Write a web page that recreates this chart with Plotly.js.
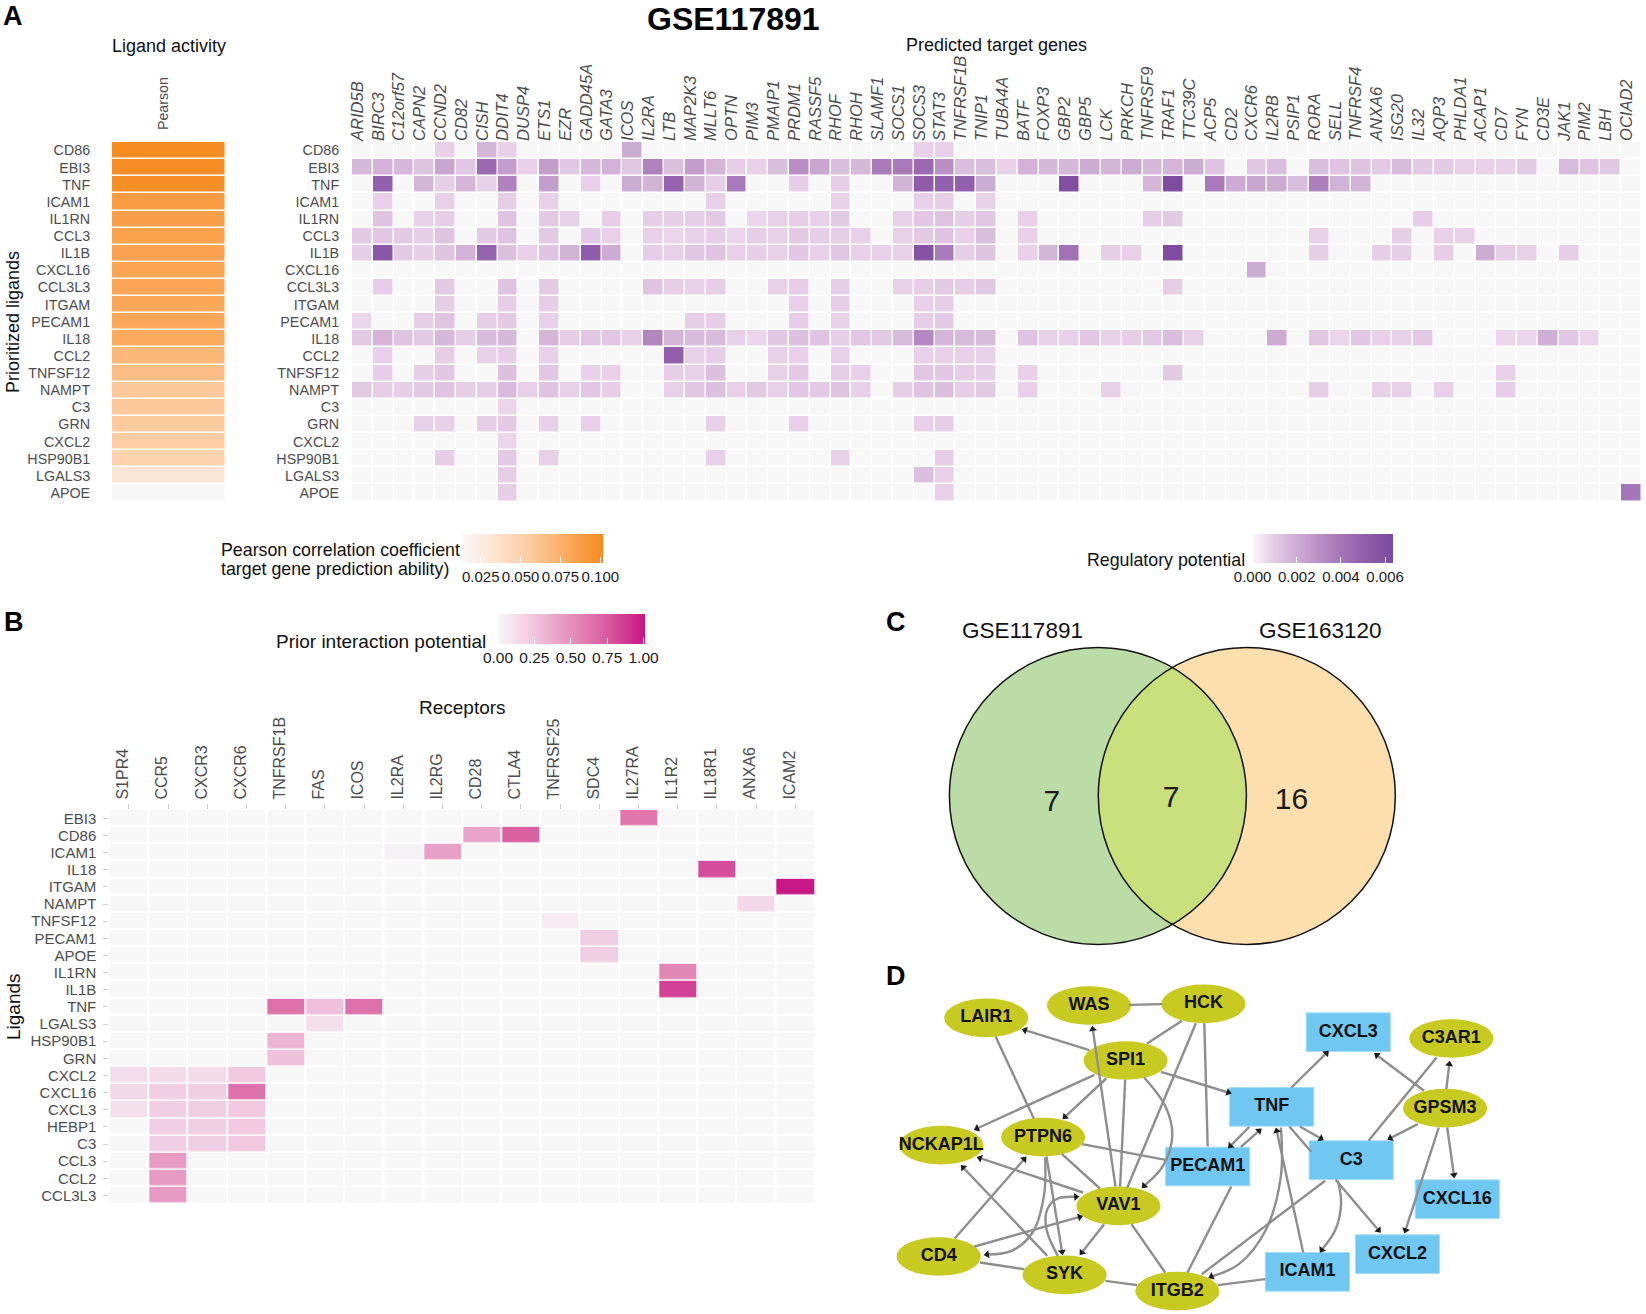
<!DOCTYPE html>
<html>
<head>
<meta charset="utf-8">
<script src="https://cdn.plot.ly/plotly-3.0.1.min.js"></script>
<style>html,body{margin:0;padding:0;background:#fff}#plot{width:1646px;height:1314px}</style>
</head>
<body>
<div id="plot"></div>
<script>
// ---------- Panel A data ----------
const ligandsA = ['CD86','EBI3','TNF','ICAM1','IL1RN','CCL3','IL1B','CXCL16','CCL3L3','ITGAM','PECAM1','IL18','CCL2','TNFSF12','NAMPT','C3','GRN','CXCL2','HSP90B1','LGALS3','APOE'];
const pearson = [0.1017,0.100,0.099,0.090,0.087,0.086,0.085,0.084,0.082,0.081,0.081,0.080,0.070,0.066,0.058,0.058,0.057,0.054,0.050,0.032,0.014];
const targetGenes = ['ARID5B','BIRC3','C12orf57','CAPN2','CCND2','CD82','CISH','DDIT4','DUSP4','ETS1','EZR','GADD45A','GATA3','ICOS','IL2RA','LTB','MAP2K3','MLLT6','OPTN','PIM3','PMAIP1','PRDM1','RASSF5','RHOF','RHOH','SLAMF1','SOCS1','SOCS3','STAT3','TNFRSF1B','TNIP1','TUBA4A','BATF','FOXP3','GBP2','GBP5','LCK','PRKCH','TNFRSF9','TRAF1','TTC39C','ACP5','CD2','CXCR6','IL2RB','PSIP1','RORA','SELL','TNFRSF4','ANXA6','ISG20','IL32','AQP3','PHLDA1','ACAP1','CD7','FYN','CD3E','JAK1','PIM2','LBH','OCIAD2'];
// regulatory potential, in units of 1e-4
const reg_CD86 = [0,0,0,0,8,0,17,8,0,0, 0,0,0,20,0,0,0,0,0,0, 0,0,0,0,0,0,0,8,8,0, 0,0,0,0,0,0,0,0,0,0, 0,0,0,0,0,0,0,0,0,0, 0,0,0,0,0,0,0,0,0,0, 0,0];
const reg_EBI3 = [16,18,16,12,22,11,45,25,8,25, 11,16,18,11,35,13,25,17,9,8, 14,30,22,14,16,38,38,45,30,14, 14,8,18,16,16,20,17,20,16,17, 20,12,0,11,14,0,14,12,12,10, 15,10,10,8,8,8,10,0,15,12, 11,0];
const reg_TNF = [0,50,0,17,9,17,8,35,0,25, 0,8,0,20,18,48,18,9,38,0, 0,9,0,9,0,0,18,52,50,50, 20,0,0,0,60,0,0,0,17,62, 0,38,20,22,20,14,36,18,18,0, 0,0,0,0,0,0,0,0,0,0, 0,0];
const reg_ICAM1 = [0,8,0,0,8,0,0,9,0,8, 0,0,0,0,0,0,0,8,0,0, 0,0,0,8,0,0,0,8,9,0, 8,0,0,0,0,0,0,0,0,0, 0,0,0,0,0,0,0,0,0,0, 0,0,0,0,0,0,0,0,0,0, 0,0];
const reg_IL1RN = [0,12,0,8,9,0,0,12,0,10, 8,0,9,0,9,9,9,10,0,7, 8,9,8,10,0,0,8,11,12,9, 11,0,8,0,0,0,0,0,9,10, 0,0,0,0,0,0,0,0,0,0, 0,9,0,0,0,0,0,0,0,0, 0,0];
const reg_CCL3 = [10,11,10,9,12,0,10,12,0,10, 0,10,8,0,8,7,8,9,7,9, 8,10,9,9,8,0,8,10,12,8, 14,0,8,0,0,0,0,0,0,0, 0,0,0,0,0,0,8,0,0,0, 9,0,8,8,0,0,0,0,0,0, 0,0];
const reg_IL1B = [9,55,10,9,12,18,48,13,8,12, 18,52,20,0,9,8,11,12,8,9, 8,11,8,11,8,8,8,58,38,9, 12,0,8,17,42,0,9,8,0,62, 0,0,0,0,0,0,9,0,0,9, 9,0,9,0,20,9,8,0,9,0, 0,0];
const reg_CXCL16 = [0,0,0,0,0,0,0,0,0,0, 0,0,0,0,0,0,0,0,0,0, 0,0,0,0,0,0,0,0,0,0, 0,0,0,0,0,0,0,0,0,0, 0,0,0,20,0,0,0,0,0,0, 0,0,0,0,0,0,0,0,0,0, 0,0];
const reg_CCL3L3 = [0,9,0,0,10,0,0,12,0,10, 0,0,0,0,12,9,8,9,0,0, 8,9,0,9,0,0,8,9,10,9, 11,0,0,0,0,0,0,0,0,9, 0,0,0,0,0,0,0,0,0,0, 0,0,0,0,0,0,0,0,0,0, 0,0];
const reg_ITGAM = [0,0,0,0,9,0,0,9,0,9, 0,0,0,0,0,0,0,0,0,0, 0,8,0,9,0,0,0,8,9,0, 0,0,0,0,0,0,0,0,0,0, 0,0,0,0,0,0,0,0,0,0, 0,0,0,0,0,0,0,0,0,0, 0,0];
const reg_PECAM1 = [7,0,0,9,12,0,9,10,0,8, 0,0,0,0,0,0,9,9,0,0, 0,9,0,8,0,0,0,9,10,0, 0,0,0,0,0,0,0,0,0,0, 0,0,0,0,0,0,0,0,0,0, 0,0,0,0,0,0,0,0,0,0, 0,0];
const reg_IL18 = [10,17,12,10,16,9,15,16,0,17, 9,11,11,8,33,17,15,15,8,7, 11,13,12,9,11,10,15,32,17,15, 15,0,12,8,8,11,8,9,10,14, 8,0,0,0,20,0,11,7,11,8, 8,10,0,0,0,7,7,19,11,7, 0,0];
const reg_CCL2 = [0,8,0,0,9,0,8,9,0,8, 0,0,0,0,0,50,8,9,0,0, 8,8,0,8,0,0,0,8,8,8, 8,0,0,0,0,0,0,0,0,0, 0,0,0,0,0,0,0,0,0,0, 0,0,0,0,0,0,0,0,0,0, 0,0];
const reg_TNFSF12 = [0,9,0,9,11,0,0,13,0,11, 0,8,8,0,0,9,8,13,0,0, 8,10,0,9,8,0,0,11,11,9, 9,0,8,0,0,0,0,0,0,10, 0,0,0,0,0,0,0,0,0,0, 0,0,0,0,0,8,0,0,0,0, 0,0];
const reg_NAMPT = [10,9,9,10,12,9,9,15,8,12, 8,11,9,0,0,8,11,13,8,10, 8,11,10,12,8,0,9,12,14,9, 10,0,8,0,0,0,8,0,0,0, 0,0,0,0,0,0,9,0,0,8, 8,0,8,0,0,9,0,0,0,0, 0,0];
const reg_C3 = [0,0,0,0,0,0,0,7,0,0, 0,0,0,0,0,0,0,0,0,0, 0,0,0,0,0,0,0,0,0,0, 0,0,0,0,0,0,0,0,0,0, 0,0,0,0,0,0,0,0,0,0, 0,0,0,0,0,0,0,0,0,0, 0,0];
const reg_GRN = [0,0,0,8,8,0,9,10,0,8, 0,8,0,0,0,0,0,8,0,0, 0,8,0,0,0,0,0,8,9,0, 0,0,0,0,0,0,0,0,0,0, 0,0,0,0,0,0,0,0,0,0, 0,0,0,0,0,0,0,0,0,0, 0,0];
const reg_CXCL2 = [0,0,0,0,0,0,0,7,0,0, 0,0,0,0,0,0,0,0,0,0, 0,0,0,0,0,0,0,0,0,0, 0,0,0,0,0,0,0,0,0,0, 0,0,0,0,0,0,0,0,0,0, 0,0,0,0,0,0,0,0,0,0, 0,0];
const reg_HSP90B1 = [0,0,0,0,9,0,0,10,0,8, 0,0,0,0,0,0,0,8,0,0, 0,0,0,8,0,0,0,0,9,0, 0,0,0,0,0,0,0,0,0,0, 0,0,0,0,0,0,0,0,0,0, 0,0,0,0,0,0,0,0,0,0, 0,0];
const reg_LGALS3 = [0,0,0,0,0,0,0,9,0,0, 0,0,0,0,0,0,0,0,0,0, 0,0,0,0,0,0,0,14,8,0, 0,0,0,0,0,0,0,0,0,0, 0,0,0,0,0,0,0,0,0,0, 0,0,0,0,0,0,0,0,0,0, 0,0];
const reg_APOE = [0,0,0,0,0,0,0,9,0,0, 0,0,0,0,0,0,0,0,0,0, 0,0,0,0,0,0,0,0,8,0, 0,0,0,0,0,0,0,0,0,0, 0,0,0,0,0,0,0,0,0,0, 0,0,0,0,0,0,0,0,0,0, 0,40];
const regMatrix = [reg_CD86,reg_EBI3,reg_TNF,reg_ICAM1,reg_IL1RN,reg_CCL3,reg_IL1B,reg_CXCL16,reg_CCL3L3,reg_ITGAM,reg_PECAM1,reg_IL18,reg_CCL2,reg_TNFSF12,reg_NAMPT,reg_C3,reg_GRN,reg_CXCL2,reg_HSP90B1,reg_LGALS3,reg_APOE];

// ---------- Panel B data ----------
const receptors = ['S1PR4','CCR5','CXCR3','CXCR6','TNFRSF1B','FAS','ICOS','IL2RA','IL2RG','CD28','CTLA4','TNFRSF25','SDC4','IL27RA','IL1R2','IL18R1','ANXA6','ICAM2'];
const ligandsB = ['EBI3','CD86','ICAM1','IL18','ITGAM','NAMPT','TNFSF12','PECAM1','APOE','IL1RN','IL1B','TNF','LGALS3','HSP90B1','GRN','CXCL2','CXCL16','CXCL3','HEBP1','C3','CCL3','CCL2','CCL3L3'];
const prior_EBI3    = [0,0,0,0,0,0,0,0,0,0,0,0,0,.62,0,0,0,0];
const prior_CD86    = [0,0,0,0,0,0,0,0,0,.40,.72,0,0,0,0,0,0,0];
const prior_ICAM1   = [0,0,0,0,0,0,0,.03,.42,0,0,0,0,0,0,0,0,0];
const prior_IL18    = [0,0,0,0,0,0,0,0,0,0,0,0,0,0,0,.80,0,0];
const prior_ITGAM   = [0,0,0,0,0,0,0,0,0,0,0,0,0,0,0,0,0,1.0];
const prior_NAMPT   = [0,0,0,0,0,0,0,0,0,0,0,0,0,0,0,0,.15,0];
const prior_TNFSF12 = [0,0,0,0,0,0,0,0,0,0,0,.06,0,0,0,0,0,0];
const prior_PECAM1  = [0,0,0,0,0,0,0,0,0,0,0,0,.20,0,0,0,0,0];
const prior_APOE    = [0,0,0,0,0,0,0,0,0,0,0,0,.20,0,0,0,0,0];
const prior_IL1RN   = [0,0,0,0,0,0,0,0,0,0,0,0,0,0,.55,0,0,0];
const prior_IL1B    = [0,0,0,0,0,0,0,0,0,0,0,0,0,0,.85,0,0,0];
const prior_TNF     = [0,0,0,0,.65,.28,.65,0,0,0,0,0,0,0,0,0,0,0];
const prior_LGALS3  = [0,0,0,0,0,.12,0,0,0,0,0,0,0,0,0,0,0,0];
const prior_HSP90B1 = [0,0,0,0,.33,0,0,0,0,0,0,0,0,0,0,0,0,0];
const prior_GRN     = [0,0,0,0,.27,0,0,0,0,0,0,0,0,0,0,0,0,0];
const prior_CXCL2   = [.13,.14,.14,.23,0,0,0,0,0,0,0,0,0,0,0,0,0,0];
const prior_CXCL16  = [.15,.20,.20,.65,0,0,0,0,0,0,0,0,0,0,0,0,0,0];
const prior_CXCL3   = [.12,.20,.20,.23,0,0,0,0,0,0,0,0,0,0,0,0,0,0];
const prior_HEBP1   = [0,.20,.20,.23,0,0,0,0,0,0,0,0,0,0,0,0,0,0];
const prior_C3      = [0,.20,.20,.23,0,0,0,0,0,0,0,0,0,0,0,0,0,0];
const prior_CCL3    = [0,.45,0,0,0,0,0,0,0,0,0,0,0,0,0,0,0,0];
const prior_CCL2    = [0,.45,0,0,0,0,0,0,0,0,0,0,0,0,0,0,0,0];
const prior_CCL3L3  = [0,.45,0,0,0,0,0,0,0,0,0,0,0,0,0,0,0,0];
const priorMatrix = [prior_EBI3,prior_CD86,prior_ICAM1,prior_IL18,prior_ITGAM,prior_NAMPT,prior_TNFSF12,prior_PECAM1,prior_APOE,prior_IL1RN,prior_IL1B,prior_TNF,prior_LGALS3,prior_HSP90B1,prior_GRN,prior_CXCL2,prior_CXCL16,prior_CXCL3,prior_HEBP1,prior_C3,prior_CCL3,prior_CCL2,prior_CCL3L3];

// ---------- Panel C data ----------
const vennCounts = ['7','7','16'];
const vennCountX = [1051.8,1171,1291.4];
const vennCountY = [803,799,801];

// ---------- Panel D data ----------
const ellipseNames = ['LAIR1','WAS','HCK','SPI1','NCKAP1L','PTPN6','VAV1','CD4','SYK','ITGB2','GPSM3','C3AR1'];
const ellipseX = [300,544,816,631,193,435,614,187,486,754,1390,1405];
const ellipseY = [166,129,124,294,548,524,730,882,937,986,437,228];
const rectNames = ['CXCL3','TNF','PECAM1','C3','CXCL16','CXCL2','ICAM1'];
const rectX = [1160,978,826,1167,1419,1277,1063];
const rectY = [209,433,612,593,710,875,928];
const straightEdges = [
 [640,127,718,125,0],[765,175,682,243,0],[798,182,635,675,0],[818,182,826,552,0],[322,222,413,468,0],
 [545,263,392,203,1],[607,672,553,200,1],[630,352,618,672,0],[557,337,278,498,1],[585,348,487,463,1],
 [715,328,875,390,1],[528,545,726,592,0],[480,575,570,678,0],[443,582,480,868,1],[225,828,390,590,1],
 [445,880,245,615,1],[530,690,285,587,1],[580,785,527,870,1],[645,785,725,930,0],[272,852,522,763,1],
 [285,900,390,920,0],[583,955,658,968,0],[850,968,963,950,0],[778,930,882,672,0],[812,935,1105,655,0],
 [1053,870,990,505,1],[905,553,948,505,1],[925,493,880,550,1],[1025,375,1108,272,1],[1045,492,1095,528,1],
 [1020,492,1072,568,0],[1130,652,1232,803,1],[1340,385,1228,278,1],[1393,380,1400,305,1],[1325,485,1260,527,1],
 [1395,495,1411,637,1],[1375,495,1296,803,1],[1370,285,1208,535,0]
];
const curvedEdges = [
 [[675,345],[725,430],[742,520],[720,610],[675,670]],
 [[470,880],[443,800],[445,740],[470,708],[513,703]],
 [[440,585],[437,700],[410,810],[360,865],[302,876]],
 [[1000,495],[1000,640],[965,800],[900,905],[835,942]],
 [[1135,655],[1143,720],[1130,800],[1097,862]]
];

// ---------- helpers ----------
const W = 1646, H = 1314;
const FONT = '"Liberation Sans", Arial, sans-serif';
const px = x => x / W, py = y => 1 - y / H;
const domX = (a,b) => [px(a), px(b)];
const domY = (top,bottom) => [py(bottom), py(top)];
const GREY0 = '#f7f7f8';
const orangeScale = [[0,GREY0],[0.2,'#fde6d6'],[0.5,'#fdc99b'],[0.76,'#fba85b'],[1,'#f68b1f']];
const purpleScale = [[0,GREY0],[0.125,'#e8d1e8'],[0.25,'#d6b8da'],[0.5,'#b58ac1'],[0.75,'#9663ae'],[1,'#7b4a9f']];
const pinkScale = [[0,GREY0],[0.25,'#f0c4dc'],[0.5,'#e48fbb'],[0.75,'#d85a9f'],[1,'#c71585']];
const cb = (left,top,len,thick,vals,fmt,size) => ({
  orientation:'h', x:px(left), xanchor:'left', y:py(top), yanchor:'top', xpad:0, ypad:0,
  lenmode:'pixels', len:len, thicknessmode:'pixels', thickness:thick, outlinewidth:0, borderwidth:0,
  tickmode:'array', tickvals:vals, tickformat:fmt, ticks:'inside', ticklen:6, tickcolor:'#ffffff', tickwidth:1,
  tickfont:{family:FONT,size:size,color:'#1a1a1a'}
});

const traces = [
 {type:'heatmap', x:['Pearson'], y:ligandsA, z:pearson.map(v=>[v]), xaxis:'x', yaxis:'y', xgap:1.5, ygap:1.5,
  colorscale:orangeScale, zmin:0.0139, zmax:0.1017, showscale:true, hoverinfo:'skip',
  colorbar:cb(463,534,140,29,[0.025,0.05,0.075,0.1],'.3f',15)},
 {type:'heatmap', x:targetGenes, y:ligandsA, z:regMatrix.map(r=>r.map(v=>v*1e-4)), xaxis:'x2', yaxis:'y2', xgap:1.5, ygap:1.5,
  colorscale:purpleScale, zmin:0, zmax:0.00634, showscale:true, hoverinfo:'skip',
  colorbar:cb(1252.6,534,139.5,29,[0,0.002,0.004,0.006],'.3f',15)},
 {type:'heatmap', x:receptors, y:ligandsB, z:priorMatrix, xaxis:'x3', yaxis:'y3', xgap:2, ygap:1.5,
  colorscale:pinkScale, zmin:0, zmax:1.01, showscale:true, hoverinfo:'skip',
  colorbar:cb(498,614,146.5,30,[0,0.25,0.5,0.75,1],'.2f',15.5)},
 {type:'scatter', mode:'text', x:vennCountX, y:vennCountY, text:vennCounts, xaxis:'x4', yaxis:'y4',
  textfont:{family:FONT,size:30,color:'#1a1a1a'}, textposition:'middle center', hoverinfo:'skip', showlegend:false}
];

// network edges through the network axes
const straightX=[], straightY=[];
const arrowX=[], arrowY=[], arrowA=[];
const XS = 660/1568, YS = 1/3;
function addArrow(x0,y0,x1,y1){
  arrowX.push(x1); arrowY.push(y1);
  arrowA.push(Math.atan2((x1-x0)*XS, -(y1-y0)*YS)*180/Math.PI);
}
straightEdges.forEach(e=>{
  straightX.push(e[0],e[2],null); straightY.push(e[1],e[3],null);
  if(e[4]) addArrow(e[0],e[1],e[2],e[3]);
});
const edgeLine = {color:'#8e8e8e',width:2.4};
traces.push({type:'scatter',mode:'lines',x:straightX,y:straightY,xaxis:'x5',yaxis:'y5',line:edgeLine,hoverinfo:'skip',showlegend:false,connectgaps:false});
curvedEdges.forEach(c=>{
  traces.push({type:'scatter',mode:'lines',x:c.map(p=>p[0]),y:c.map(p=>p[1]),xaxis:'x5',yaxis:'y5',
    line:{color:'#8e8e8e',width:2.4,shape:'spline',smoothing:1},hoverinfo:'skip',showlegend:false});
  const n=c.length; addArrow(c[n-2][0],c[n-2][1],c[n-1][0],c[n-1][1]);
});
traces.push({type:'scatter',mode:'markers',x:arrowX,y:arrowY,xaxis:'x5',yaxis:'y5',
  marker:{symbol:'triangle-up',size:7,color:'#1c1c1c',angle:arrowA,line:{width:0}},hoverinfo:'skip',showlegend:false});
traces.push({type:'scatter',mode:'text',x:ellipseX.concat(rectX),y:ellipseY.concat(rectY),text:ellipseNames.concat(rectNames),
  xaxis:'x5',yaxis:'y5',textposition:'middle center',textfont:{family:FONT,size:18,color:'#111111',weight:'bold'},hoverinfo:'skip',showlegend:false});

// shapes
const shapes = [];
const NHX=100, NHY=58;
ellipseX.forEach((x,i)=>shapes.push({type:'circle',xref:'x5',yref:'y5',layer:'below',x0:x-NHX,x1:x+NHX,y0:ellipseY[i]-NHY,y1:ellipseY[i]+NHY,fillcolor:'#c8ca22',line:{width:0}}));
rectX.forEach((x,i)=>shapes.push({type:'rect',xref:'x5',yref:'y5',layer:'below',x0:x-NHX,x1:x+NHX,y0:rectY[i]-NHY,y1:rectY[i]+NHY,fillcolor:'#70c7f2',line:{color:'#a5dcf6',width:1}}));
// Venn
const VL={x:1097.9,y:796}, VR={x:1246.8,y:796}, VRAD=148.5;
const vCircle=(c,extra)=>Object.assign({type:'circle',xref:'x4',yref:'y4',layer:'below',x0:c.x-VRAD,x1:c.x+VRAD,y0:c.y-VRAD,y1:c.y+VRAD},extra);
shapes.push(vCircle(VL,{fillcolor:'#bbdca6',line:{width:0}}));
shapes.push(vCircle(VR,{fillcolor:'#fddfae',line:{width:0}}));
const half=Math.acos((VR.x-VL.x)/2/VRAD);
let lens='';
for(let i=0;i<=40;i++){const a=-half+2*half*i/40; lens+=(i?'L':'M')+(VL.x+VRAD*Math.cos(a))+','+(VL.y+VRAD*Math.sin(a));}
for(let i=0;i<=40;i++){const a=Math.PI-half+2*half*i/40; lens+='L'+(VR.x+VRAD*Math.cos(a))+','+(VR.y+VRAD*Math.sin(a));}
lens+='Z';
shapes.push({type:'path',xref:'x4',yref:'y4',layer:'below',path:lens,fillcolor:'#c9df7c',line:{width:0}});
shapes.push(vCircle(VL,{fillcolor:'rgba(0,0,0,0)',line:{color:'#111',width:1.5}}));
shapes.push(vCircle(VR,{fillcolor:'rgba(0,0,0,0)',line:{color:'#111',width:1.5}}));

// text
const note=(text,x,y,size,extra)=>Object.assign({text:text,xref:'paper',yref:'paper',x:px(x),y:py(y),showarrow:false,
  font:{family:FONT,size:size,color:'#111'},xanchor:'center',yanchor:'middle'},extra||{});
const bold=(size)=>({family:FONT,size:size,color:'#000',weight:'bold'});
const annotations=[
 note('GSE117891',733,19,32,{font:bold(32)}),
 note('A',1,16,27,{font:bold(27),xanchor:'left'}),
 note('B',2,622,27,{font:bold(27),xanchor:'left'}),
 note('C',884,622,27,{font:bold(27),xanchor:'left'}),
 note('D',884,976,27,{font:bold(27),xanchor:'left'}),
 note('Ligand activity',168.5,45.5,18),
 note('Predicted target genes',996,45,18),
 note('Prioritized ligands',13,322,18,{textangle:-90}),
 note('Pearson correlation coefficient',219,550,17.8,{xanchor:'left'}),
 note('target gene prediction ability)',219,569,17.8,{xanchor:'left'}),
 note('Regulatory potential',1247,559.5,17.8,{xanchor:'right'}),
 note('Prior interaction potential',488,641,19,{xanchor:'right'}),
 note('Receptors',462,707,19),
 note('Ligands',13,1007,19,{textangle:-90}),
 note('GSE117891',1022.5,631,22.5),
 note('GSE163120',1320.7,631,22.5)
];

const hide={visible:false,showgrid:false,zeroline:false,showticklabels:false,fixedrange:true};
const tick=(size,color,italic)=>({family:FONT,size:size,color:color||'#4d4d4d',style:italic?'italic':'normal'});
const layout={
 width:W,height:H,margin:{l:0,r:0,t:0,b:0,pad:0},paper_bgcolor:'#fff',plot_bgcolor:'rgba(0,0,0,0)',showlegend:false,
 font:{family:FONT},shapes:shapes,annotations:annotations,
 // Ligand activity
 xaxis:{domain:domX(112,226),anchor:'y',side:'top',type:'category',tickvals:['Pearson'],tickangle:-90,ticklabelshift:-6,tickfont:tick(14.2),ticks:'outside',ticklen:8,tickcolor:'#fff',showgrid:false,zeroline:false,showline:false,fixedrange:true},
 yaxis:{domain:domY(141.9,501.5),anchor:'x',type:'category',autorange:'reversed',tickvals:ligandsA,tickfont:tick(14.3),ticks:'outside',ticklen:18,tickcolor:'#fff',showgrid:false,zeroline:false,showline:false,fixedrange:true},
 // target genes
 xaxis2:{domain:domX(352,1642),anchor:'y2',side:'top',type:'category',tickvals:targetGenes,tickangle:-90,ticklabelshift:-5,tickfont:tick(16.5,'#4d4d4d',true),ticks:'',showgrid:false,zeroline:false,showline:false,fixedrange:true},
 yaxis2:{domain:domY(141.9,501.5),anchor:'x2',type:'category',autorange:'reversed',tickvals:ligandsA,tickfont:tick(14.3),ticks:'outside',ticklen:9,tickcolor:'#fff',showgrid:false,zeroline:false,showline:false,fixedrange:true},
 // receptors
 xaxis3:{domain:domX(109.3,815),anchor:'y3',side:'top',type:'category',tickvals:receptors,tickangle:-90,ticklabelshift:-6,tickfont:tick(16),ticks:'outside',ticklen:5,tickcolor:'#d0d0d0',tickwidth:1,ticklabelstandoff:1,showgrid:false,zeroline:false,showline:false,fixedrange:true},
 yaxis3:{domain:domY(809.8,1204),anchor:'x3',type:'category',autorange:'reversed',tickvals:ligandsB,tickfont:tick(15),ticks:'outside',ticklen:5,tickcolor:'#d0d0d0',tickwidth:1,ticklabelstandoff:4,showgrid:false,zeroline:false,showline:false,fixedrange:true},
 // Venn, in its own plain axes
 xaxis4:Object.assign({domain:domX(940,1405),anchor:'y4',range:[940,1405]},hide),
 yaxis4:Object.assign({domain:domY(640,955),anchor:'x4',range:[955,640]},hide),
 // network
 xaxis5:Object.assign({domain:domX(860,1520),anchor:'y5',range:[0,1568]},hide),
 yaxis5:Object.assign({domain:domY(962.5,1314),anchor:'x5',range:[1054.5,0]},hide)
};
Plotly.newPlot('plot',traces,layout,{displayModeBar:false,staticPlot:true});
</script>
</body>
</html>
